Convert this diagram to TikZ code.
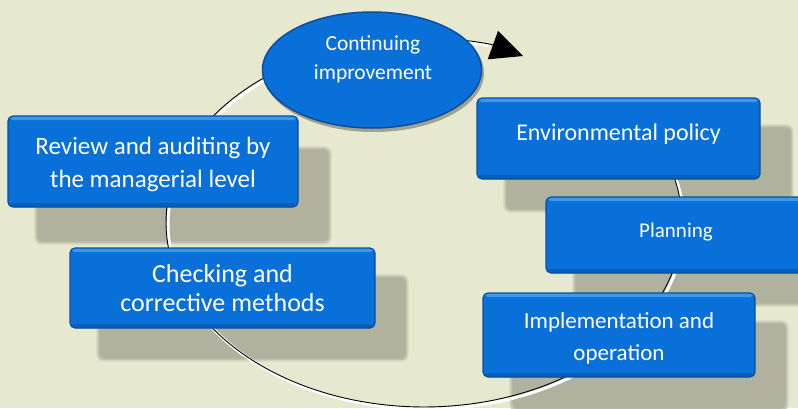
\documentclass[tikz,border=0pt]{standalone}
\usepackage{fontspec}
\setmainfont{Carlito}
\usetikzlibrary{shapes.geometric,arrows.meta}
\definecolor{paper}{HTML}{E6E8CF}
\definecolor{shadowcol}{HTML}{B0B29E}
\definecolor{boxblue}{HTML}{0870D8}
\definecolor{boxedge}{HTML}{0B4F9C}
\definecolor{boxlight}{HTML}{3A98EE}
\definecolor{boxdark}{HTML}{0860BE}
\pgfdeclarelayer{bg}
\pgfdeclarelayer{shade}
\pgfdeclarelayer{ring}
\pgfsetlayers{bg,shade,ring,main}

\begin{document}
\begin{tikzpicture}[x=1pt,y=-1pt,
		stage/.style={rectangle,rounded corners=5pt,fill=boxblue,draw=boxedge,line width=1.2pt,text=white,align=center,inner sep=0pt,
			path picture={\fill[boxlight] (path picture bounding box.north west) rectangle ([yshift=-4pt]path picture bounding box.north east);
				\fill[boxdark] (path picture bounding box.south west) rectangle ([yshift=4pt]path picture bounding box.south east);}},
		hub/.style={ellipse,fill=boxblue,draw=boxedge,line width=1.5pt,inner sep=0pt},
		hublabel/.style={text=white,align=center,font=\fontsize{21.5}{29}\selectfont}]
	\useasboundingbox (0,0) rectangle (798,408);
	\begin{pgfonlayer}{bg}
		\fill[paper] (0,0) rectangle (798,408);
	\end{pgfonlayer}
	\node[stage,minimum width=290pt,minimum height=91pt,text height=56pt,font=\fontsize{25}{33}\selectfont] (review) at (153,161.5) {Review and auditing by\\the managerial level};
	\node[stage,minimum width=305pt,minimum height=80pt,font=\fontsize{26}{29}\selectfont] (check) at (222.5,288) {Checking and\\corrective methods};
	\node[stage,minimum width=283pt,minimum height=81pt,text depth=13pt,font=\fontsize{24}{30}\selectfont] (policy) at (618.5,138.5) {Environmental policy};
	\node[stage,minimum width=260pt,minimum height=76pt,text depth=10pt,font=\fontsize{21}{26}\selectfont] (plan) at (676,235) {Planning};
	\node[stage,minimum width=272pt,minimum height=84pt,text height=54pt,font=\fontsize{23}{32}\selectfont] (impl) at (619,335) {Implementation and\\operation};
	\fill[black,opacity=0.3] (374,73) ellipse [x radius=110, y radius=59];
	\node[hub,minimum width=219pt,minimum height=116pt] (cont) at (372,70) {};
	\node[hublabel] (contlabel) at (373,59.5) {Continuing\\improvement};
	\coordinate (tip) at (523,56);
	\begin{pgfonlayer}{shade}
		\foreach \n/\dy in {review/34,check/30,policy/30,plan/30,impl/31}{
			\fill[shadowcol!35!paper,rounded corners=7pt] ([shift={(27,\dy-3)}]\n.north west) rectangle ([shift={(33,\dy+3)}]\n.south east);
			\fill[shadowcol!70!paper,rounded corners=6pt] ([shift={(28.5,\dy-1.5)}]\n.north west) rectangle ([shift={(31.5,\dy+1.5)}]\n.south east);
			\fill[shadowcol,rounded corners=5pt] ([shift={(30,\dy)}]\n.north west) rectangle ([shift={(30,\dy)}]\n.south east);
		}
	\end{pgfonlayer}
	\begin{pgfonlayer}{ring}
		\draw[white,line width=3pt] plot[domain=-38:284,samples=160] ({426+258*cos(\x)},{224.5+184.5*sin(\x)});
		\draw[black,line width=0.9pt,-{Triangle[length=32pt,width=30pt]}] plot[domain=-38:285,samples=160] ({424+258*cos(\x)},{222.5+184.5*sin(\x)}) -- (tip);
	\end{pgfonlayer}
\end{tikzpicture}
\end{document}
